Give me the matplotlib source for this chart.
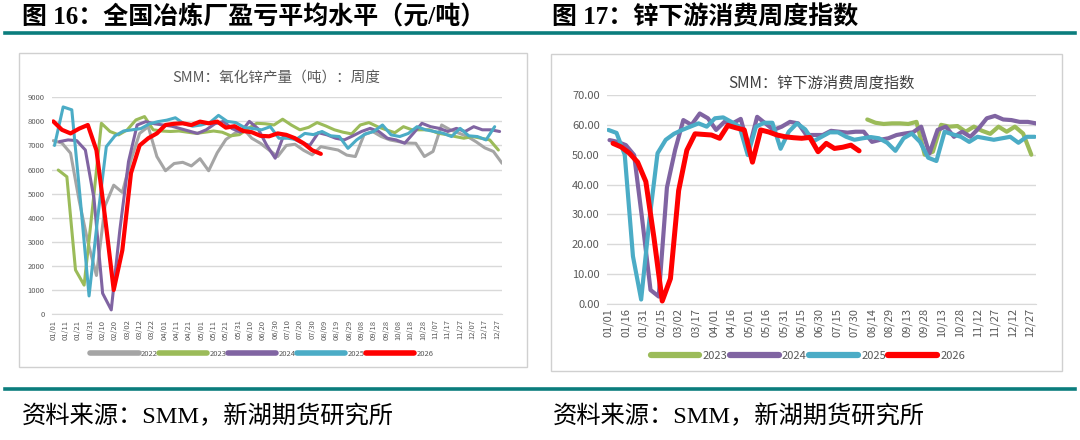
import matplotlib
matplotlib.use("Agg")
import matplotlib.pyplot as plt
from matplotlib.lines import Line2D
from matplotlib.patches import Rectangle

plt.rcParams["font.family"] = ["Noto Sans CJK SC", "DejaVu Sans"]

# ---- left chart: SMM zinc oxide weekly output (t) ----
left_years = ["2022", "2023", "2024", "2025", "2026"]
left_start_day = [0, 4, 5, 1, 0]
zno_2022 = [7200, 7100, 6680, 4700, 3000, 1600, 4500, 5350, 5050, 6400, 7500, 7780,
            6540, 5950, 6250, 6300, 6150, 6450, 5950, 6700, 7250, 7500, 7700, 7300,
            7090, 6810, 6540, 7000, 7050, 6800, 6610, 6950, 6880, 6810, 6600, 6540,
            7440, 7580, 7370, 7230, 7160, 7100, 7090, 6540, 6750, 7850, 7650, 7510,
            7370, 7150, 6900, 6750, 6260]
zno_2023 = [5980, 5700, 1830, 1200, 4500, 7920, 7580, 7440, 7650, 8060, 8200, 7650,
            7600, 7580, 7600, 7550, 7500, 7550, 7600, 7550, 7400, 7450, 7700, 7920,
            7900, 7850, 8090, 7850, 7650, 7750, 7950, 7810, 7650, 7550, 7480, 7850,
            7950, 7780, 7650, 7530, 7780, 7650, 7650, 7650, 7510, 7450, 7370, 7300,
            7370, 7300, 7230, 6810]
zno_2024 = [7160, 7230, 7200, 6810, 4800, 860, 170, 3500, 6330, 7850, 7990, 7900,
            7850, 7800, 7700, 7600, 7500, 7650, 7900, 8000, 7700, 7550, 8000, 7700,
            7020, 6470, 7440, 7300, 7120, 7000, 7530, 7440, 7300, 7230, 7400, 7580,
            7710, 7580, 7300, 7230, 7090, 7500, 7920, 7780, 7710, 7580, 7710, 7580,
            7780, 7650, 7650, 7580]
zno_2025 = [7000, 8600, 8480, 4700, 750, 4000, 6950, 7400, 7600, 7650, 7700, 7900,
            7990, 8050, 8150, 7900, 7800, 7850, 7950, 8250, 8000, 7950, 7750, 7700,
            7650, 7780, 7300, 7300, 7250, 7500, 7450, 7580, 7400, 7370, 6880, 7230,
            7480, 7580, 7850, 7440, 7370, 7500, 7780, 7650, 7580, 7510, 7370, 7710,
            7400, 7370, 7230, 7780]
zno_2026 = [8000, 7650, 7500, 7700, 7850, 6800, 4000, 1000, 2650, 5850, 7000, 7300,
            7500, 7850, 7900, 7920, 7850, 7990, 7920, 7990, 7740, 7800, 7600, 7550,
            7400, 7380, 7500, 7440, 7300, 7090, 6800, 6650]
left_ticks = ["01/01", "01/11", "01/21", "01/31", "02/10", "02/20", "03/02", "03/12",
              "03/22", "04/01", "04/11", "04/21", "05/01", "05/11", "05/21", "05/31",
              "06/10", "06/20", "06/30", "07/10", "07/20", "07/30", "08/09", "08/19",
              "08/29", "09/08", "09/18", "09/28", "10/08", "10/18", "10/28", "11/07",
              "11/17", "11/27", "12/07", "12/17", "12/27"]

# ---- right chart: SMM zinc downstream consumption weekly index ----
right_years = ["2023", "2024", "2025", "2026"]
right_start_day = [221, 1, 0, 4]
idx_2023 = [61.8, 60.7, 60.3, 60.5, 60.5, 60.3, 61.0, 50.0, 51.0, 60.0, 59.4, 59.6,
            57.7, 59.4, 58.0, 57.0, 59.4, 57.7, 59.4, 57.1, 50.0]
idx_2024 = [54.9, 54.3, 53.2, 49.9, 28.0, 4.7, 2.5, 39.0, 51.6, 61.6, 60.0, 63.8,
            62.2, 58.3, 61.0, 60.5, 62.0, 52.0, 62.7, 60.5, 58.3, 59.4, 61.0, 60.5,
            56.6, 56.6, 56.6, 58.0, 57.7, 57.4, 57.7, 57.7, 54.3, 55.0, 55.5, 56.6,
            57.1, 57.5, 59.4, 50.4, 58.3, 59.4, 56.0, 57.7, 56.0, 58.8, 62.2, 63.0,
            61.8, 61.6, 61.0, 61.0, 60.5]
idx_2025 = [58.3, 57.3, 50.0, 16.0, 1.5, 28.0, 50.5, 55.0, 57.0, 58.3, 59.4, 60.5,
            59.4, 62.2, 62.5, 61.0, 59.4, 49.9, 59.4, 60.7, 60.7, 52.0, 57.7, 60.5,
            58.5, 54.5, 56.0, 57.5, 57.5, 56.0, 55.0, 55.5, 55.9, 55.5, 54.0, 51.3,
            55.5, 57.1, 54.3, 49.0, 47.9, 57.7, 56.8, 56.0, 54.3, 56.0, 55.5, 55.0,
            55.5, 56.0, 54.0, 56.0, 56.0]
idx_2026 = [53.8, 52.6, 50.5, 47.5, 41.0, 22.0, 1.0, 8.5, 38.0, 51.5, 57.0, 56.8,
            56.6, 55.5, 59.8, 59.0, 58.3, 47.5, 58.3, 57.6, 56.6, 56.0, 55.7, 55.5,
            55.8, 51.0, 53.8, 52.1, 52.5, 53.2, 51.3]
right_ticks = ["01/01", "01/16", "01/31", "02/15", "03/02", "03/17", "04/01", "04/16",
               "05/01", "05/16", "05/31", "06/15", "06/30", "07/15", "07/30", "08/14",
               "08/29", "09/13", "09/28", "10/13", "10/28", "11/12", "11/27", "12/12",
               "12/27"]

colors = {"2022": "#A5A5A5", "2023": "#9BBB59", "2024": "#8064A2",
          "2025": "#4BACC6", "2026": "#FF0000"}
teal = "#0B7D7D"
grid_c = "#D9D9D9"
text_c = "#595959"
serif_cjk = ["Liberation Serif", "Noto Sans CJK SC"]

W, H = 1080, 440
fig = plt.figure(figsize=(W / 100, H / 100), dpi=100)


def fx(px):
    return px / W


def fy(py):
    return 1 - py / H


# headers, rules and source lines
fig.text(fx(22), fy(17), "图 16：全国冶炼厂盈亏平均水平（元/吨）", family=serif_cjk,
         fontsize=18, fontweight="bold", va="center", ha="left")
fig.text(fx(552), fy(17), "图 17：锌下游消费周度指数", family=serif_cjk,
         fontsize=18, fontweight="bold", va="center", ha="left")
for y in (33, 389):
    fig.add_artist(Line2D([fx(5), fx(1075)], [fy(y), fy(y)], color=teal, lw=2.6))
fig.text(fx(22), fy(416), "资料来源：SMM，新湖期货研究所", family=serif_cjk,
         fontsize=17.5, va="center", ha="left")
fig.text(fx(553), fy(416), "资料来源：SMM，新湖期货研究所", family=serif_cjk,
         fontsize=17.5, va="center", ha="left")

# chart frames
fig.add_artist(Rectangle((fx(19), fy(367)), fx(527 - 19), fy(53) - fy(367),
                         fill=False, ec="#D0D0D0", lw=1.0))
fig.add_artist(Rectangle((fx(551), fy(371)), fx(1062 - 551), fy(54) - fy(371),
                         fill=False, ec="#D0D0D0", lw=1.0))


def style_axis(ax):
    for s in ("left", "right", "top"):
        ax.spines[s].set_visible(False)
    ax.spines["bottom"].set_color(grid_c)
    ax.grid(axis="y", color=grid_c, lw=1.0)
    ax.set_axisbelow(True)
    ax.tick_params(length=0, colors=text_c)


# ---- left axes ----
axl = fig.add_axes([fx(51.7), fy(314), fx(450), fy(97.3) - fy(314)])
left_series = [zno_2022, zno_2023, zno_2024, zno_2025, zno_2026]
for year, start, vals in zip(left_years, left_start_day, left_series):
    days = [start + 7 * i for i in range(len(vals))]
    lw = 3.0 if year == "2026" else 2.2
    axl.plot(days, vals, color=colors[year], lw=lw, solid_joinstyle="round",
             solid_capstyle="round")
axl.set_xlim(-1.3, 363.7)
axl.set_ylim(0, 9000)
axl.set_yticks(range(0, 9001, 1000))
axl.set_xticks([10 * i for i in range(len(left_ticks))])
axl.set_xticklabels(left_ticks, rotation=90, fontsize=5.5)
axl.tick_params(axis="y", labelsize=5.5, pad=5)
axl.tick_params(axis="x", pad=4)
style_axis(axl)
axl.set_title("SMM：氧化锌产量（吨）：周度", fontsize=10.5, color=text_c, pad=11)
handles = [Line2D([], [], color=colors[y], lw=4, solid_capstyle="round") for y in left_years]
fig.legend(handles, left_years, loc="center", bbox_to_anchor=(fx(262), fy(354)),
           ncol=5, frameon=False, fontsize=5.5, handlelength=6.3, handletextpad=0.3,
           columnspacing=0.2, labelcolor=text_c)

# ---- right axes ----
axr = fig.add_axes([fx(606.7), fy(304), fx(429.3), fy(95) - fy(304)])
right_series = [idx_2023, idx_2024, idx_2025, idx_2026]
for year, start, vals in zip(right_years, right_start_day, right_series):
    days = [start + 7 * i for i in range(len(vals))]
    lw = 3.6 if year == "2026" else 3.0
    axr.plot(days, vals, color=colors[year], lw=lw, solid_joinstyle="round",
             solid_capstyle="round")
axr.set_xlim(-1.4, 365)
axr.set_ylim(0, 70)
axr.set_yticks(range(0, 71, 10))
axr.set_yticklabels([f"{v:.2f}" for v in range(0, 71, 10)])
axr.set_xticks([15 * i for i in range(len(right_ticks))])
axr.set_xticklabels(right_ticks, rotation=90, fontsize=8)
axr.tick_params(axis="y", labelsize=8, pad=5)
axr.tick_params(axis="x", pad=3)
style_axis(axr)
axr.set_title("SMM：锌下游消费周度指数", fontsize=11, color="#404040", pad=5)
handles = [Line2D([], [], color=colors[y], lw=4.5, solid_capstyle="round") for y in right_years]
fig.legend(handles, right_years, loc="center", bbox_to_anchor=(fx(808), fy(356)),
           ncol=4, frameon=False, fontsize=8, handlelength=4.4, handletextpad=0.3,
           columnspacing=0.2, labelcolor=text_c)

fig.savefig("out.png", dpi=100)
